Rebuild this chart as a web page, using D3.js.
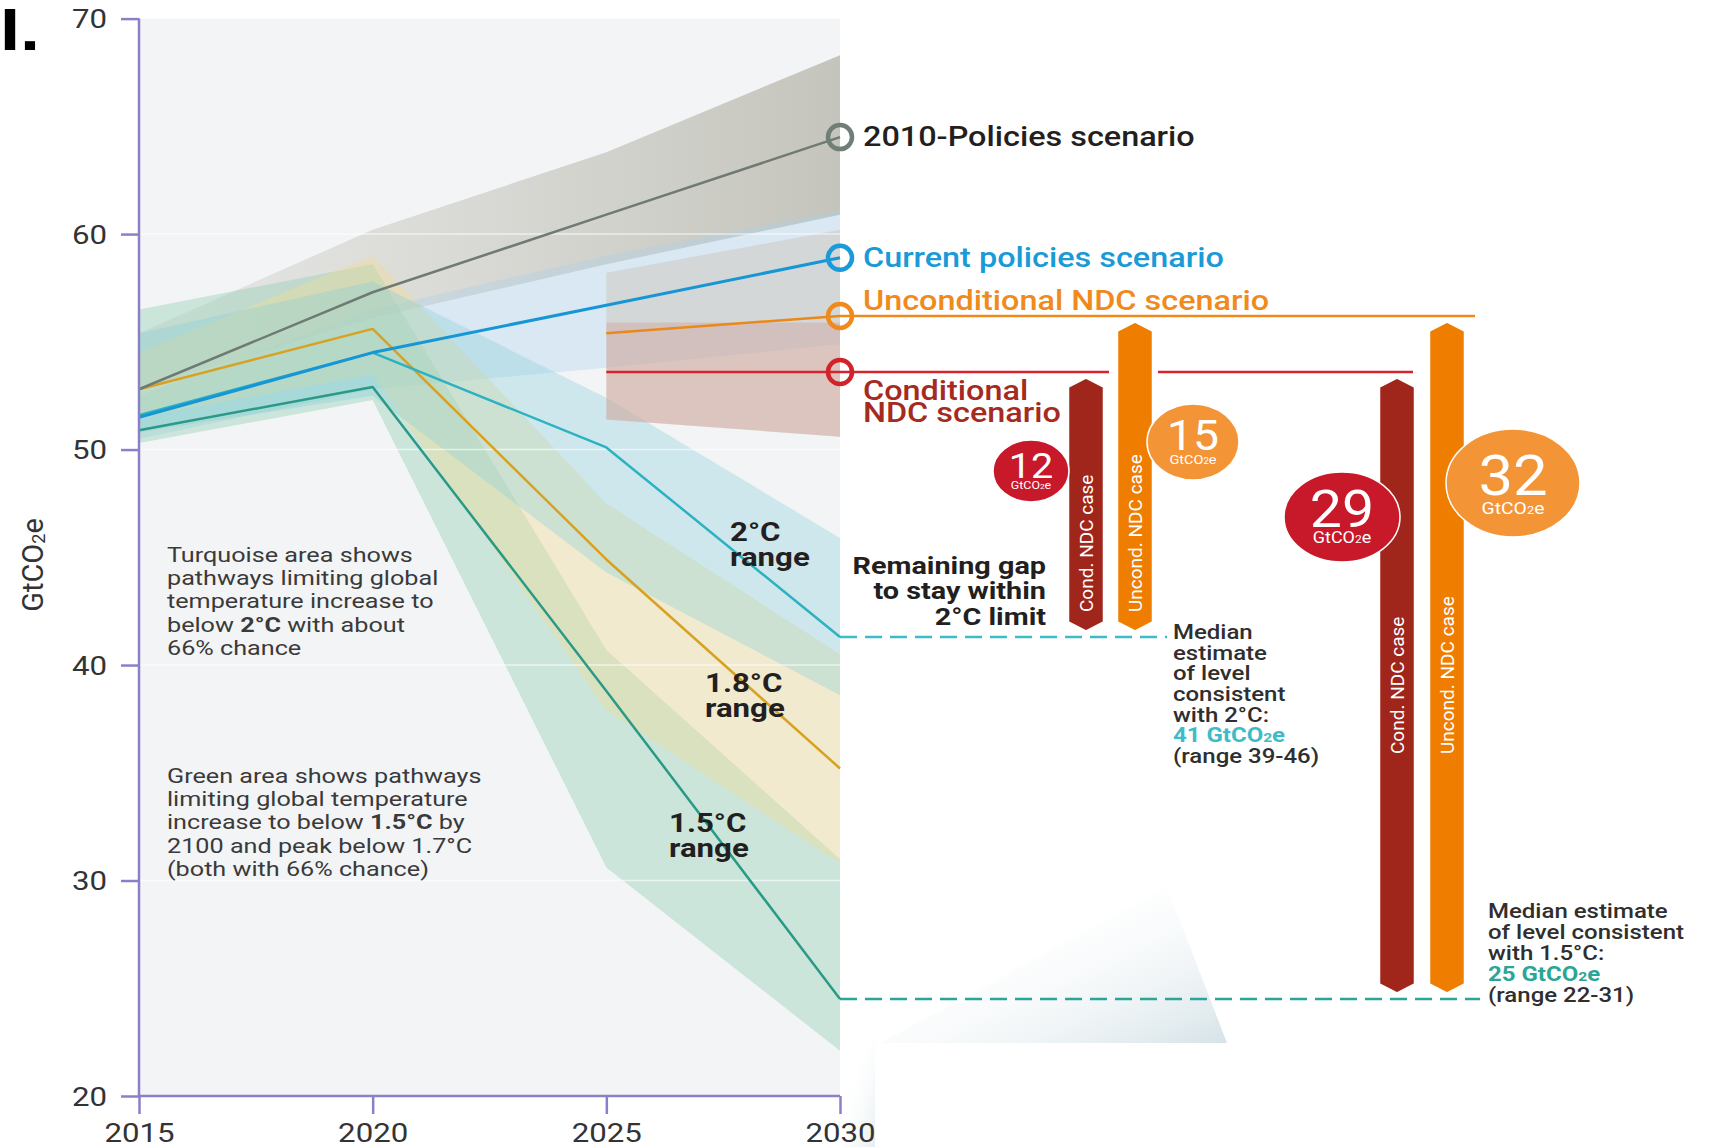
<!DOCTYPE html>
<html>
<head>
<meta charset="utf-8">
<script src="https://cdn.jsdelivr.net/npm/d3@7"></script>
<style>
  body { margin: 0; background: #fff; }
  svg { display: block; font-family: Roboto, "Liberation Sans", sans-serif; }
</style>
</head>
<body>
<svg id="chart" width="1713" height="1147"></svg>
<script>
// ---- data ----
const years = [2015, 2020, 2025, 2030];
const yTicks = [20, 30, 40, 50, 60, 70];

const policies2010 = [52.8, 57.3, 60.9, 64.5];
const currentPolicies = [51.5, 54.5, 56.7, 58.9];
const path2C = [51.6, 54.5, 50.1, 41.3];
const path18C = [52.8, 55.6, 44.9, 35.2];
const path15C = [50.9, 52.9, 38.8, 24.5];

const ndcYears = [2025, 2030];
const uncondNdc = [55.4, 56.2];
const condNdc = [53.6, 53.6];

// ranges (low / high)
const band2010Low = [52.8, 56.1, 58.6, 60.9];
const band2010High = [55.4, 60.2, 63.8, 68.3];
const bandCurrentLow = [50.5, 52.8, 53.8, 54.9];
const bandCurrentHigh = [52.5, 56.5, 59.0, 61.1];
const band15Low = [50.3, 52.3, 30.6, 22.1];
const band15High = [56.5, 58.6, 40.7, 31.0];
const band18Low = [51.5, 53.5, 37.9, 30.8];
const band18High = [54.5, 59.0, 47.5, 40.5];
const band2Low = [50.8, 52.5, 44.3, 38.6];
const band2High = [55.4, 57.8, 52.4, 45.9];
const bandUncondLow = [51.4, 50.6];
const bandUncondHigh = [58.2, 60.2];
const bandCondLow = [51.4, 50.6];
const bandCondHigh = [55.9, 55.9];

// emission gap bars
const gapLabels = ["Cond. NDC case", "Uncond. NDC case", "Cond. NDC case", "Uncond. NDC case"];
const gapFrom = [53.6, 56.2, 53.6, 56.2];
const gapTo = [41.3, 41.3, 24.5, 24.5];
const gapValues = [12, 15, 29, 32];

const target2C = 41.3;
const target15C = 24.5;

// ---- layout ----
const SX = 1.2; // the original artwork is stretched sideways
const svg = d3.select("#chart");
const x = d3.scaleLinear().domain([2015, 2030]).range([139, 840]);
const y = d3.scaleLinear().domain([20, 70]).range([1096, 18.6]);

function stretch(sel, ax) {
    sel.attr("transform", `translate(${ax},0) scale(${SX},1) translate(${-ax},0)`);
}

const defs = svg.append("defs");
const g1 = defs.append("linearGradient").attr("id", "grayGrad")
    .attr("gradientUnits", "userSpaceOnUse")
    .attr("x1", x(2015)).attr("x2", x(2030)).attr("y1", 0).attr("y2", 0);
g1.append("stop").attr("offset", "0%").attr("stop-color", "rgb(214,214,208)").attr("stop-opacity", 0.45);
g1.append("stop").attr("offset", "100%").attr("stop-color", "rgb(188,188,178)").attr("stop-opacity", 0.85);

const g2 = defs.append("linearGradient").attr("id", "shadowGrad")
    .attr("x1", "0%").attr("y1", "0%").attr("x2", "100%").attr("y2", "100%");
g2.append("stop").attr("offset", "25%").attr("stop-color", "#ffffff").attr("stop-opacity", 0);
g2.append("stop").attr("offset", "100%").attr("stop-color", "#d6e3e8").attr("stop-opacity", 1);

// faint shadow shapes bottom right
svg.append("path")
    .attr("d", "M880,1043 L1167,887 L1227,1043 Z")
    .attr("fill", "url(#shadowGrad)");
svg.append("path")
    .attr("d", "M842,1147 L842,1070 L875,1040 L875,1147 Z")
    .attr("fill", "url(#shadowGrad)").attr("opacity", 0.6);

// plot background
svg.append("rect")
    .attr("x", x(2015)).attr("y", y(70))
    .attr("width", x(2030) - x(2015)).attr("height", y(20) - y(70))
    .attr("fill", "#f3f4f6");

function band(xs, lo, hi) {
    const pts = xs.map((yr, i) => ({ yr, lo: lo[i], hi: hi[i] }));
    return d3.area().x(d => x(d.yr)).y0(d => y(d.lo)).y1(d => y(d.hi))(pts);
}
function line(xs, vals) {
    return d3.line().x((d, i) => x(xs[i])).y(d => y(d))(vals);
}

const bands = svg.append("g");
bands.append("path").attr("d", band(years, band2010Low, band2010High)).attr("fill", "url(#grayGrad)");
bands.append("path").attr("d", band(years, bandCurrentLow, bandCurrentHigh)).attr("fill", "rgba(170,210,235,0.35)");
bands.append("path").attr("d", band(years, band15Low, band15High)).attr("fill", "rgba(140,205,175,0.38)");
bands.append("path").attr("d", band(years, band18Low, band18High)).attr("fill", "rgba(240,220,150,0.40)");
bands.append("path").attr("d", band(years, band2Low, band2High)).attr("fill", "rgba(130,205,220,0.33)");
bands.append("path").attr("d", band(ndcYears, bandUncondLow, bandUncondHigh)).attr("fill", "rgba(205,195,185,0.45)");
bands.append("path").attr("d", band(ndcYears, bandCondLow, bandCondHigh)).attr("fill", "rgba(210,140,130,0.30)");

// gridlines
svg.append("g").selectAll("line")
    .data(yTicks.slice(1, -1))
    .join("line")
    .attr("x1", x(2015)).attr("x2", x(2030))
    .attr("y1", d => y(d)).attr("y2", d => y(d))
    .attr("stroke", "#ffffff").attr("stroke-opacity", 0.6).attr("stroke-width", 1.5);

// dashed target lines
svg.append("line")
    .attr("x1", x(2030)).attr("x2", 1167)
    .attr("y1", y(target2C)).attr("y2", y(target2C))
    .attr("stroke", "#3dbcc8").attr("stroke-width", 2.5).attr("stroke-dasharray", "17 8");
svg.append("line")
    .attr("x1", x(2030)).attr("x2", 1480)
    .attr("y1", y(target15C)).attr("y2", y(target15C))
    .attr("stroke", "#2aa596").attr("stroke-width", 2.5).attr("stroke-dasharray", "17 8");

// scenario lines
const lines = svg.append("g").attr("fill", "none").attr("stroke-linejoin", "round");
lines.append("path").attr("d", line(years, path15C)).attr("stroke", "#2a9a86").attr("stroke-width", 2.5);
lines.append("path").attr("d", line(years, path18C)).attr("stroke", "#d9a120").attr("stroke-width", 2.5);
lines.append("path").attr("d", line(years, path2C)).attr("stroke", "#2cb2c0").attr("stroke-width", 2.5);
lines.append("path").attr("d", line(years, policies2010)).attr("stroke", "#6e7a73").attr("stroke-width", 2.5);
lines.append("path").attr("d", line(years, currentPolicies)).attr("stroke", "#1796d6").attr("stroke-width", 3);
lines.append("path").attr("d", line(ndcYears, uncondNdc)).attr("stroke", "#e8891a").attr("stroke-width", 2.5);
lines.append("path").attr("d", line(ndcYears, condNdc)).attr("stroke", "#d8232e").attr("stroke-width", 2.5);

// NDC level lines extending right
const uLast = uncondNdc[uncondNdc.length - 1];
const cLast = condNdc[condNdc.length - 1];
lines.append("line").attr("x1", x(2030)).attr("x2", 1475)
    .attr("y1", y(uLast)).attr("y2", y(uLast)).attr("stroke", "#f08a1c").attr("stroke-width", 2.5);
lines.append("line").attr("x1", x(2030)).attr("x2", 1109)
    .attr("y1", y(cLast)).attr("y2", y(cLast)).attr("stroke", "#d8232e").attr("stroke-width", 2.5);
lines.append("line").attr("x1", 1158).attr("x2", 1413)
    .attr("y1", y(cLast)).attr("y2", y(cLast)).attr("stroke", "#d8232e").attr("stroke-width", 2.5);

// axes
const axisColor = "#8a80c8";
const yAxis = svg.append("g")
    .attr("transform", `translate(${x(2015)},0)`)
    .call(d3.axisLeft(y).tickValues(yTicks).tickSize(18).tickPadding(14));
const xAxis = svg.append("g")
    .attr("transform", `translate(0,${y(20)})`)
    .call(d3.axisBottom(x).tickValues(years).tickFormat(d3.format("d")).tickSize(18).tickPadding(8));
[yAxis, xAxis].forEach(a => {
    a.select(".domain").attr("stroke", axisColor).attr("stroke-width", 2.5);
    a.selectAll(".tick line").attr("stroke", axisColor).attr("stroke-width", 2.5);
    a.selectAll(".tick text").attr("fill", "#333").style("font-size", "26px").style("font-family", "Roboto");
});
yAxis.select(".domain").attr("d", `M0,${y(70)}V${y(20)}`);
xAxis.select(".domain").attr("d", `M${x(2015)},0H${x(2030)}`);
yAxis.selectAll(".tick text").attr("dy", "0.36em").each(function () {
    stretch(d3.select(this), +d3.select(this).attr("x"));
});
xAxis.selectAll(".tick text").attr("dy", "0.78em").each(function () {
    stretch(d3.select(this), 0);
});

// y label
svg.append("text")
    .attr("transform", "translate(43,565) rotate(-90)")
    .attr("text-anchor", "middle")
    .attr("fill", "#333").style("font-size", "29px")
    .call(t => {
        t.append("tspan").text("GtCO");
        t.append("tspan").text("2").style("font-size", "18px").attr("dy", 2);
        t.append("tspan").text("e").attr("dy", -2);
    });

// ring markers at 2030
const ringVals = [policies2010[3], currentPolicies[3], uLast, cLast];
const ringCols = ["#6f7f78", "#1a9ad6", "#f08a1c", "#d2232a"];
svg.append("g").selectAll("circle")
    .data(ringVals)
    .join("circle")
    .attr("cx", x(2030)).attr("cy", d => y(d)).attr("r", 12)
    .attr("fill", "none").attr("stroke", (d, i) => ringCols[i]).attr("stroke-width", 4.5);

// scenario labels
const lx = 863;
function label(txt, yy, col) {
    svg.append("text").attr("x", lx).attr("y", yy).text(txt)
        .attr("fill", col).style("font-size", "27px").style("font-weight", 500)
        .call(stretch, lx);
}
label("2010-Policies scenario", y(policies2010[3]) + 9, "#231f20");
label("Current policies scenario", y(currentPolicies[3]) + 9, "#1a9ad6");
label("Unconditional NDC scenario", y(uLast) - 6, "#f08a1c");
label("Conditional", y(cLast) + 28, "#a52a20");
label("NDC scenario", y(cLast) + 50, "#a52a20");

// range labels
function rangeLabel(t1, lx0, yy) {
    const t = svg.append("text").attr("fill", "#231f20").style("font-size", "26px").style("font-weight", 700);
    t.append("tspan").attr("x", lx0).attr("y", yy).text(t1);
    t.append("tspan").attr("x", lx0).attr("y", yy + 25).text("range");
    stretch(t, lx0);
}
rangeLabel("2°C", 730, 541);
rangeLabel("1.8°C", 705, 692);
rangeLabel("1.5°C", 669, 832);

// left notes
function note(linesArr, x0, y0, lh) {
    const t = svg.append("text").attr("fill", "#3a3a3a").style("font-size", "21px");
    linesArr.forEach((segs, i) => {
        segs.forEach((s, j) => {
            const ts = t.append("tspan").text(s[0]);
            if (j === 0) ts.attr("x", x0).attr("y", y0 + i * lh);
            if (s[1]) ts.style("font-weight", 700);
        });
    });
    stretch(t, x0);
}
note([
    [["Turquoise area shows"]],
    [["pathways limiting global"]],
    [["temperature increase to"]],
    [["below "], ["2°C", true], [" with about"]],
    [["66% chance"]]
], 167, 562, 23.2);
note([
    [["Green area shows pathways"]],
    [["limiting global temperature"]],
    [["increase to below "], ["1.5°C", true], [" by"]],
    [["2100 and peak below 1.7°C"]],
    [["(both with 66% chance)"]]
], 167, 783, 23.2);

// remaining gap text
const rg = svg.append("text").attr("text-anchor", "end").attr("fill", "#231f20")
    .style("font-size", "24px").style("font-weight", 700);
["Remaining gap", "to stay within", "2°C limit"].forEach((s, i) =>
    rg.append("tspan").attr("x", 1046).attr("y", 574 + i * 25.5).text(s));
stretch(rg, 1046);

// median estimate texts
function median(linesArr, x0, y0, lh, col) {
    const t = svg.append("text").attr("fill", "#2f2f2f").style("font-size", "20px").style("font-weight", 500);
    linesArr.forEach((s, i) => {
        const ts = t.append("tspan").attr("x", x0).attr("y", y0 + i * lh);
        if (typeof s === "string") ts.text(s);
        else {
            ts.attr("fill", col).style("font-weight", 700);
            ts.append("tspan").text(s[0] + " GtCO");
            ts.append("tspan").text("2").style("font-size", "13px");
            ts.append("tspan").text("e");
        }
    });
    stretch(t, x0);
}
median(["Median", "estimate", "of level", "consistent", "with 2°C:", ["41"], "(range 39-46)"], 1173, 639, 20.7, "#3dbcc8");
median(["Median estimate", "of level consistent", "with 1.5°C:", ["25"], "(range 22-31)"], 1488, 918, 21, "#2aa596");

// gap bars
const barX = [1086, 1135, 1397, 1447];
const barCols = ["#a0251a", "#ee7d00", "#a0251a", "#ee7d00"];
const barLabelY = [612, 612, 754, 754];
const bw = 35, tip = 9;
const bars = svg.append("g");
gapFrom.forEach((f, i) => {
    const top = y(f) + 6, bot = y(gapTo[i]) - 6, cx = barX[i], h = bw / 2;
    bars.append("path")
        .attr("d", `M${cx},${top} L${cx + h},${top + tip} L${cx + h},${bot - tip} L${cx},${bot} L${cx - h},${bot - tip} L${cx - h},${top + tip} Z`)
        .attr("fill", barCols[i]).attr("stroke", "#fff").attr("stroke-width", 1.5);
    bars.append("text")
        .attr("transform", `translate(${cx + 6.5},${barLabelY[i]}) rotate(-90)`)
        .attr("fill", "#fff").style("font-size", "19px")
        .text(gapLabels[i]);
});

// gap value bubbles
const bubX = [1031, 1193, 1342, 1513];
const bubY = [471, 442, 517, 483];
const bubRx = [38, 46, 58, 67];
const bubRy = [31, 38, 45, 54];
const bubCols = ["#c8192b", "#f39536", "#c8192b", "#f39536"];
const bubFont = [36, 42, 52, 56];
gapValues.forEach((v, i) => {
    const gb = svg.append("g").attr("transform", `translate(${bubX[i]},${bubY[i]})`);
    gb.append("ellipse").attr("rx", bubRx[i]).attr("ry", bubRy[i])
        .attr("fill", bubCols[i]).attr("stroke", "#fff").attr("stroke-width", 1.5);
    gb.append("text").attr("text-anchor", "middle").attr("y", bubRy[i] * 0.22)
        .attr("fill", "#fff").style("font-size", bubFont[i] + "px").text(v)
        .attr("transform", "scale(1.1,1)");
    const sub = gb.append("text").attr("text-anchor", "middle").attr("y", bubRy[i] * 0.58)
        .attr("fill", "#fff").style("font-size", (bubFont[i] * 0.3) + "px")
        .attr("transform", "scale(1.15,1)");
    sub.append("tspan").text("GtCO");
    sub.append("tspan").text("2").style("font-size", (bubFont[i] * 0.2) + "px");
    sub.append("tspan").text("e");
});

// panel letter
svg.append("text").attr("x", 0).attr("y", 50)
    .style("font-family", "Liberation Sans, Arial, sans-serif")
    .style("font-size", "60px").style("font-weight", 700)
    .attr("fill", "#000").text("I.")
    .call(stretch, 0);
</script>
</body>
</html>
